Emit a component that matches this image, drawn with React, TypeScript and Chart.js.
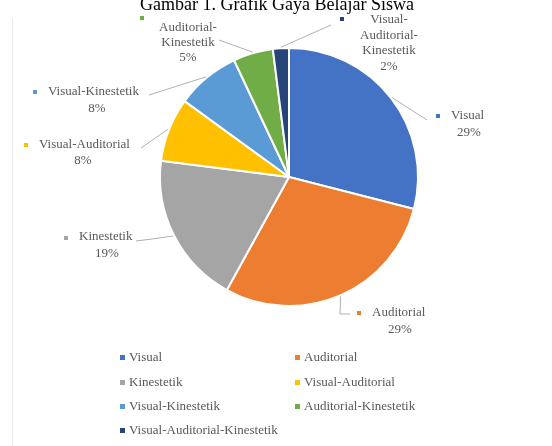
import React, { useEffect, useRef } from "react";
import { Chart, registerables } from "chart.js";

Chart.register(...registerables);

const titleText = "Gambar 1. Grafik Gaya Belajar Siswa";
const categories = [
  "Visual",
  "Auditorial",
  "Kinestetik",
  "Visual-Auditorial",
  "Visual-Kinestetik",
  "Auditorial-Kinestetik",
  "Visual-Auditorial-Kinestetik",
];
const percentages = [29, 29, 19, 8, 8, 5, 2];
const sliceColors = ["#4472C4", "#ED7D31", "#A5A5A5", "#FFC000", "#5B9BD5", "#70AD47", "#264478"];
// how each data label's name is broken into lines
const labelNameLines = [
  ["Visual"],
  ["Auditorial"],
  ["Kinestetik"],
  ["Visual-Auditorial"],
  ["Visual-Kinestetik"],
  ["Auditorial-", "Kinestetik"],
  ["Visual-", "Auditorial-", "Kinestetik"],
];

// layout of data labels (positions only)
type LabelLayout = {
  marker: [number, number];
  cx: number;
  y0: number;
  lh: number;
  inline: boolean; // marker placed on first line left of text
  leader: [number, number][];
};
const labelLayouts: LabelLayout[] = [
  { marker: [438, 116], cx: 469, y0: 116, lh: 17, inline: true, leader: [[427, 120]] },
  { marker: [359, 313], cx: 400, y0: 313, lh: 17, inline: true, leader: [[340, 314], [350, 314]] },
  { marker: [66, 238], cx: 107, y0: 237, lh: 17, inline: true, leader: [[152, 239], [136, 241]] },
  { marker: [26, 145], cx: 83, y0: 145, lh: 16, inline: true, leader: [[141, 148]] },
  { marker: [35, 92], cx: 97, y0: 92, lh: 17, inline: true, leader: [[149, 95]] },
  { marker: [142, 18], cx: 188, y0: 28, lh: 15, inline: false, leader: [[219, 40]] },
  { marker: [342, 19], cx: 389, y0: 20, lh: 15.5, inline: false, leader: [[331, 25]] },
];

const FONT = "'Liberation Serif', 'Times New Roman', serif";

const overlayPlugin = {
  id: "overlay",
  afterDraw(chart: any) {
    const ctx = chart.ctx as CanvasRenderingContext2D;
    const meta = chart.getDatasetMeta(0);
    ctx.save();

    // faint chart frame (left edge)
    ctx.strokeStyle = "#ececec";
    ctx.lineWidth = 1;
    ctx.beginPath();
    ctx.moveTo(12.5, 18);
    ctx.lineTo(12.5, 446);
    ctx.stroke();

    // title (clipped at the top like the reference)
    ctx.fillStyle = "#000000";
    ctx.font = `18px ${FONT}`;
    ctx.textAlign = "center";
    ctx.textBaseline = "alphabetic";
    ctx.fillText(titleText, 277, 10);

    // leader lines
    ctx.strokeStyle = "#b0b0b0";
    ctx.lineWidth = 1;
    meta.data.forEach((arc: any, i: number) => {
      const p = arc.getProps(["x", "y", "startAngle", "endAngle", "outerRadius"], true);
      const mid = (p.startAngle + p.endAngle) / 2;
      const sx = p.x + Math.cos(mid) * (p.outerRadius + 1);
      const sy = p.y + Math.sin(mid) * (p.outerRadius + 1);
      ctx.beginPath();
      ctx.moveTo(sx, sy);
      labelLayouts[i].leader.forEach(([x, y]) => ctx.lineTo(x, y));
      ctx.stroke();
    });

    // data labels
    ctx.font = `13px ${FONT}`;
    ctx.textBaseline = "middle";
    categories.forEach((_, i) => {
      const L = labelLayouts[i];
      const lines = [...labelNameLines[i], `${percentages[i]}%`];
      ctx.fillStyle = sliceColors[i];
      ctx.fillRect(L.marker[0] - 2, L.marker[1] - 2, 4, 4);
      ctx.fillStyle = "#595959";
      lines.forEach((t, k) => {
        const y = L.y0 + k * L.lh;
        if (k === 0 && L.inline) {
          ctx.textAlign = "left";
          ctx.fillText(t, L.marker[0] + 13, y);
        } else {
          ctx.textAlign = "center";
          ctx.fillText(t, L.cx, y);
        }
      });
    });

    // legend (two columns)
    const colX = [122, 297];
    const rowY = [357, 382, 406, 430];
    ctx.font = `13px ${FONT}`;
    ctx.textAlign = "left";
    categories.forEach((name, i) => {
      const x = colX[i % 2];
      const y = rowY[Math.floor(i / 2)];
      ctx.fillStyle = sliceColors[i];
      ctx.fillRect(x - 2, y - 2, 5, 5);
      ctx.fillStyle = "#595959";
      ctx.fillText(name, x + 7, y + 1);
    });

    ctx.restore();
  },
};

export default function App() {
  const ref = useRef<HTMLCanvasElement | null>(null);
  useEffect(() => {
    if (!ref.current) return;
    const chart = new Chart(ref.current, {
      type: "pie",
      data: {
        labels: categories,
        datasets: [
          {
            data: percentages,
            backgroundColor: sliceColors,
            borderColor: "#ffffff",
            borderWidth: 2,
            hoverOffset: 0,
            offset: 0,
          },
        ],
      },
      options: {
        animation: false,
        responsive: false,
        devicePixelRatio: 1,
        layout: { padding: { left: 159, right: 133, top: 47, bottom: 139 } },
        plugins: {
          legend: { display: false },
          tooltip: { enabled: false },
          title: { display: false },
        },
      },
      plugins: [overlayPlugin],
    });
    return () => chart.destroy();
  }, []);
  return (
    <div style={{ position: "fixed", left: 0, top: 0, width: 552, height: 446, background: "#ffffff" }}>
      <canvas ref={ref} width={552} height={446} />
    </div>
  );
}
